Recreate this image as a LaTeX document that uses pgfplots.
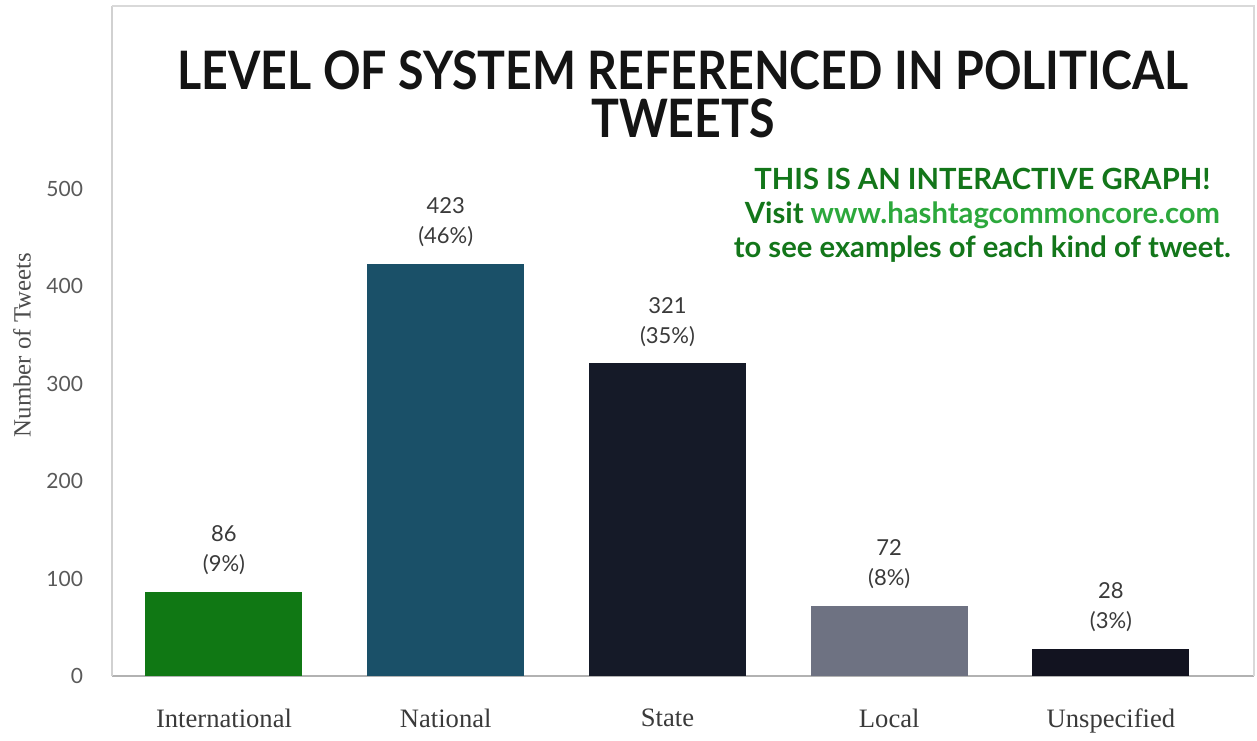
\documentclass[border=0pt]{standalone}
\usepackage{pgfplots}
\pgfplotsset{compat=1.18}
\usepackage{fontspec}
\setmainfont{Lato}
\newfontfamily\serifx{Liberation Serif}
\definecolor{cIntl}{HTML}{107814}
\definecolor{cNat}{HTML}{1A5068}
\definecolor{cState}{HTML}{151A28}
\definecolor{cLocal}{HTML}{6E7282}
\definecolor{cUnsp}{HTML}{121320}
\definecolor{dgreen}{HTML}{13761A}
\definecolor{lgreen}{HTML}{2CA83C}
\definecolor{lbl}{HTML}{3A3A3A}
\begin{document}
\begin{tikzpicture}
\begin{axis}[
  scale only axis,
  width=571pt, height=335pt,
  xmin=-0.505, xmax=4.645,
  ymin=0, ymax=688,
  ybar, bar width=0.708, bar shift=0pt,
  axis line style={draw=black!18, line width=0.6pt},
  axis x line*=bottom,
  x axis line style={draw=black!30},
  xtick={0,1,2,3,4},
  xticklabels={International,National,State,Local,Unspecified},
  ytick={0,100,200,300,400,500},
  major tick length=0pt,
  tick style={draw=none},
  x tick label style={font=\serifx\fontsize{13.3}{15}\selectfont, text=lbl, yshift=-13pt},
  y tick label style={font=\fontsize{10.5}{12}\selectfont, text=black!65, xshift=-11pt},
  /pgf/number format/assume math mode=true,
  ylabel={\serifx Number of Tweets},
  ylabel style={font=\fontsize{12.4}{14}\selectfont, text=black!70, at={(rel axis cs:0,0.494)}, yshift=37pt},
  nodes near coords style={font=\fontsize{11}{15}\selectfont, text=lbl, align=center, anchor=south, yshift=5pt},
  clip=false,
]
\addplot[fill=cIntl, draw=none, nodes near coords={86\\(9\%)}] coordinates {(0,86)};
\addplot[fill=cNat, draw=none, nodes near coords={423\\(46\%)}] coordinates {(1,423)};
\addplot[fill=cState, draw=none, nodes near coords={321\\(35\%)}] coordinates {(2,321)};
\addplot[fill=cLocal, draw=none, nodes near coords={72\\(8\%)}] coordinates {(3,72)};
\addplot[fill=cUnsp, draw=none, nodes near coords={28\\(3\%)}] coordinates {(4,28)};
\draw[black!15, line width=0.6pt] (rel axis cs:0,1) -- (rel axis cs:1,1) -- (rel axis cs:1,0);
\node[font=\bfseries\fontsize{26.5}{24}\selectfont, align=center, text=black!92] at (rel axis cs:0.5,0.868)
  {\scalebox{0.878}[1]{LEVEL OF SYSTEM REFERENCED IN POLITICAL}\\\scalebox{0.878}[1]{TWEETS}};
\node[font=\bfseries\fontsize{14.6}{17}\selectfont, align=center, text=dgreen] at (axis cs:3.42,473)
  {THIS IS AN INTERACTIVE GRAPH!\\Visit \textcolor{lgreen}{www.hashtagcommoncore.com}\\to see examples of each kind of tweet.};
\end{axis}
\path ([xshift=-56pt,yshift=-31pt]current axis.south west) rectangle ([xshift=1.5pt,yshift=3pt]current axis.north east);
\end{tikzpicture}
\end{document}
